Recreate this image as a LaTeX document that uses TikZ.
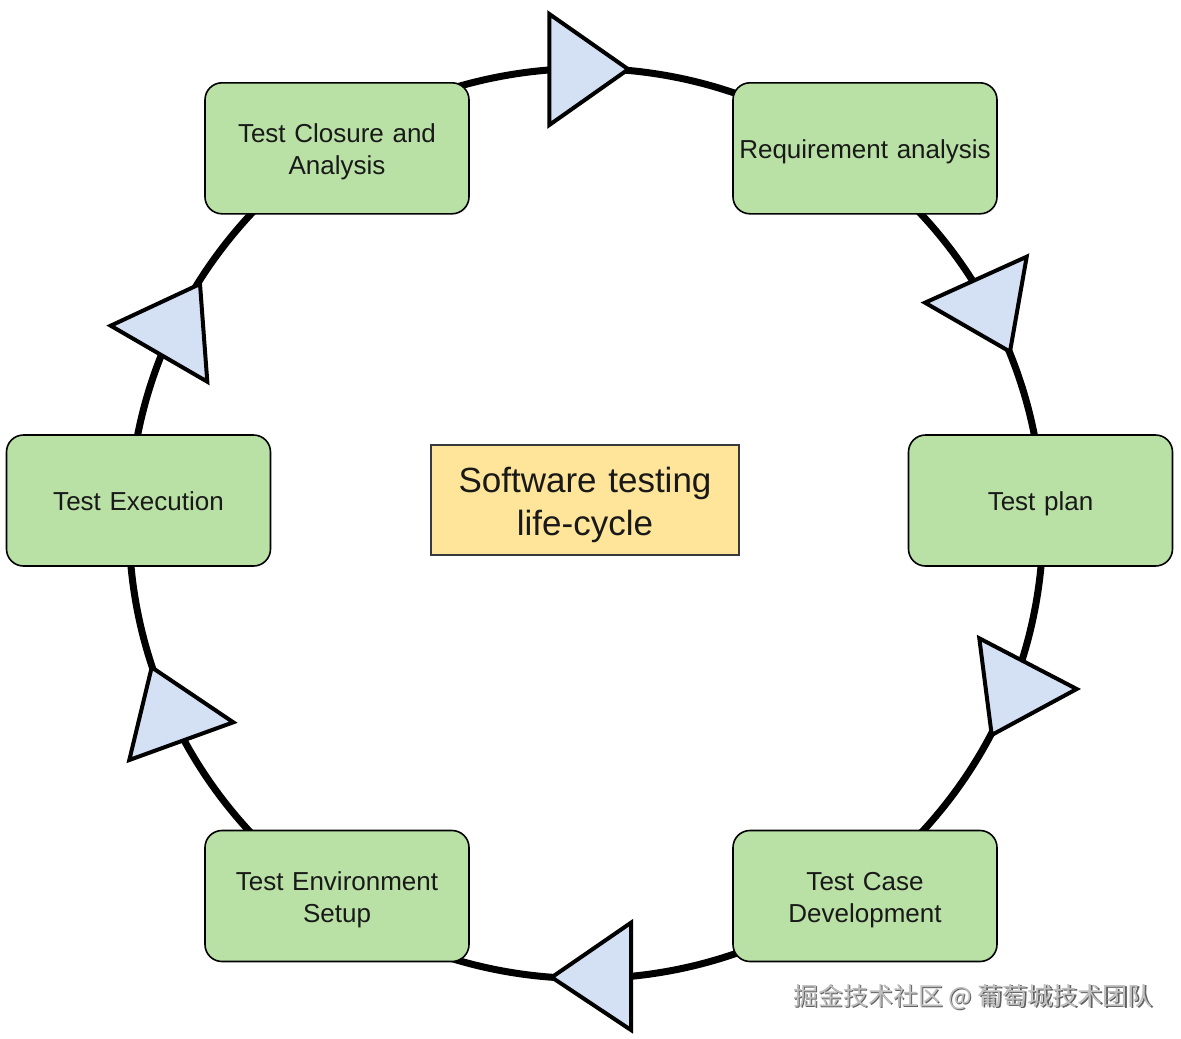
\documentclass[tikz,border=0pt]{standalone}
\usepackage{fontspec}
\setmainfont{Liberation Sans}
\newfontfamily\cjkfont{Noto Sans CJK SC}
\definecolor{boxgreen}{HTML}{B9E0A5}
\definecolor{triblue}{HTML}{D4E1F5}
\definecolor{centeryellow}{HTML}{FFE599}
\definecolor{centerborder}{HTML}{36393D}
\newcommand\linestrut{\rule[-0.2em]{0pt}{1.2em}}
\begin{document}
\begin{tikzpicture}[x=1pt,y=-1pt,
  stagebox/.style={draw=black, line width=1.6pt, fill=boxgreen, rounded corners=17pt,
    minimum width=264pt, minimum height=131pt, inner sep=0pt, text width=258pt,
    align=center, font=\fontsize{26}{31}\selectfont, text=black!90,
    execute at begin node=\linestrut, execute at end node=\linestrut},
  centerbox/.style={draw=centerborder, line width=2pt, fill=centeryellow,
    minimum width=308pt, minimum height=110pt, inner sep=0pt, text width=300pt,
    align=center, font=\fontsize{35}{42}\selectfont, text=black!90,
    execute at begin node=\linestrut, execute at end node=\linestrut},
  arrowtri/.style={draw=black, line width=4pt, fill=triblue, line join=miter},
  ring/.style={draw=black, line width=7pt},
  wmark/.style={font=\cjkfont\fontsize{25}{29}\selectfont, inner sep=0pt}
]
\useasboundingbox (0,0) rectangle (1181,1039);
\coordinate (ringcenter) at (586,523.5);
% ring
\draw[ring] (ringcenter) ellipse [x radius=457pt, y radius=455pt];
% stages
\node[stagebox] (closure) at (337,148.3) {Test Closure and\\Analysis};
\node[stagebox] (req) at (865,148.3) {Requirement analysis};
\node[stagebox] (plan) at (1040.5,500.5) {Test plan};
\node[stagebox] (casedev) at (865,896) {Test Case\\Development};
\node[stagebox] (envsetup) at (337,896) {Test Environment\\Setup};
\node[stagebox] (exec) at (138.5,500.5) {Test Execution};
\node[centerbox] (stlc) at (585,500) {Software testing\\life-cycle};
% direction arrowheads on the ring
\draw[arrowtri] (549.3,14) -- (628.3,69.3) -- (549.3,125) -- cycle;
\draw[arrowtri] (1026.7,256.7) -- (1010,351.7) -- (925,302.7) -- cycle;
\draw[arrowtri] (979.3,638.3) -- (1076.7,689) -- (991.7,735) -- cycle;
\draw[arrowtri] (631,922.7) -- (631,1030) -- (551.7,977.3) -- cycle;
\draw[arrowtri] (151.7,667.3) -- (233.3,722.3) -- (129.3,760) -- cycle;
\draw[arrowtri] (200,284) -- (207.3,381.7) -- (110.7,325.7) -- cycle;
% watermark
\node[wmark, text=black!62] (wmshadow) at (974.2,998.2) {掘金技术社区 @ 葡萄城技术团队};
\node[wmark, text=black!25] (wmtext) at (973,997) {掘金技术社区 @ 葡萄城技术团队};
\end{tikzpicture}
\end{document}
